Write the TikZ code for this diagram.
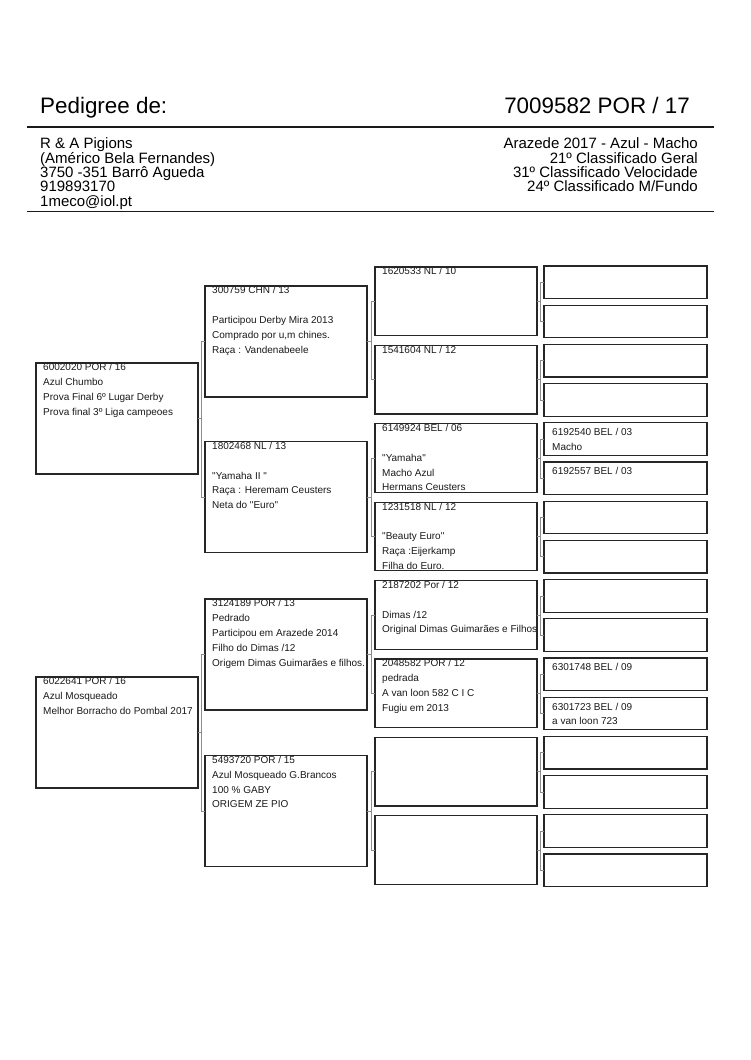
\documentclass[tikz,border=0pt]{standalone}
\usepackage{fontspec}
\setmainfont{Liberation Sans}[Ligatures=TeXOff]
\usepackage{tikz}
\usetikzlibrary{backgrounds}

\begin{document}
\begin{tikzpicture}[
      x=1pt, y=-1pt,
      %% Pedigree boxes, one height per generation
      gen/.style={draw=black!85, line width=1.2pt, anchor=north west,
                  inner sep=0pt, outer sep=0pt, minimum width=162pt},
      big/.style={gen, minimum height=111pt},
      mid/.style={gen, minimum height=68.5pt},
      small/.style={gen, minimum width=163pt, minimum height=32.5pt},
      %% Text inside the boxes
      info/.style={anchor=north west, align=left, inner sep=0pt, text=black!90,
                   font=\fontsize{10}{14.8}\selectfont},
      %% Thin grey bracket connectors
      link/.style={draw=black!45, line width=0.6pt},
      rule/.style={draw=black!90, line width=1.3pt},
    ]
    \useasboundingbox (0,0) rectangle (750,1060);

    %% ── Header ──────────────────────────────────────────────────────────────
    \node[anchor=base west, inner sep=0pt, font=\fontsize{22.4}{26}\selectfont]
      (title) at (40,113) {Pedigree de:};
    \node[anchor=base east, inner sep=0pt, font=\fontsize{22.4}{26}\selectfont]
      (ring) at (690,113) {7009582 POR / 17};
    \draw[rule] (27,127) -- (714,127);

    \node[anchor=north west, align=left, inner sep=0pt,
          font=\fontsize{15}{14.3}\selectfont] (owner) at (40,137.8)
      {R \& A Pigions\\
       (Américo Bela Fernandes)\\
       3750 -351 Barrô Agueda\\
       919893170\\
       1meco@iol.pt};
    \node[anchor=north east, align=right, inner sep=0pt,
          font=\fontsize{15}{14.3}\selectfont] (result) at (698,137.8)
      {Arazede 2017 - Azul - Macho\\
       21º Classificado Geral\\
       31º Classificado Velocidade\\
       24º Classificado M/Fundo};
    \draw[rule] (27,211.5) -- (714,211.5);

    %% ── Parents ─────────────────────────────────────────────────────────────
    \node[big] (s) at (36,363) {};
    \node[big] (d) at (36,677) {};

    %% ── Grandparents ────────────────────────────────────────────────────────
    \node[big] (ss) at (205,286) {};
    \node[big] (sd) at (205,441.5) {};
    \node[big] (ds) at (205,599) {};
    \node[big] (dd) at (205,755.5) {};

    %% ── Great-grandparents ──────────────────────────────────────────────────
    \node[mid] (sss) at (375,267) {};
    \node[mid] (ssd) at (375,345.4) {};
    \node[mid] (sds) at (375,423.8) {};
    \node[mid] (sdd) at (375,502.2) {};
    \node[mid] (dss) at (375,580.6) {};
    \node[mid] (dsd) at (375,659) {};
    \node[mid] (dds) at (375,737.4) {};
    \node[mid] (ddd) at (375,815.8) {};

    %% ── Great-great-grandparents ────────────────────────────────────────────
    \node[small] (ssss) at (544,266) {};
    \node[small] (sssd) at (544,305.2) {};
    \node[small] (ssds) at (544,344.4) {};
    \node[small] (ssdd) at (544,383.6) {};
    \node[small] (sdss) at (544,422.8) {};
    \node[small] (sdsd) at (544,462) {};
    \node[small] (sdds) at (544,501.2) {};
    \node[small] (sddd) at (544,540.4) {};
    \node[small] (dsss) at (544,579.6) {};
    \node[small] (dssd) at (544,618.8) {};
    \node[small] (dsds) at (544,658) {};
    \node[small] (dsdd) at (544,697.2) {};
    \node[small] (ddss) at (544,736.4) {};
    \node[small] (ddsd) at (544,775.6) {};
    \node[small] (ddds) at (544,814.8) {};
    \node[small] (dddd) at (544,854) {};

    %% ── Box texts (behind the borders, so the top line is cut) ──────────────
    \begin{scope}[on background layer]
      \node[info] (t-s) at ([xshift=7pt,yshift=-0.5pt]s.north west)
        {6002020 POR / 16\\ Azul Chumbo\\ Prova Final 6º Lugar Derby\\
         Prova final 3º Liga campeoes};
      \node[info] (t-d) at ([xshift=7pt,yshift=-0.5pt]d.north west)
        {6022641 POR / 16\\ Azul Mosqueado\\ Melhor Borracho do Pombal 2017};

      \node[info] (t-ss) at ([xshift=7pt,yshift=-0.5pt]ss.north west)
        {300759 CHN / 13\\ {}\\ Participou Derby Mira 2013\\
         Comprado por u,m chines.\\ Raça : Vandenabeele};
      \node[info] (t-sd) at ([xshift=7pt,yshift=-0.5pt]sd.north west)
        {1802468 NL / 13\\ {}\\ "Yamaha II "\\ Raça : Heremam Ceusters\\
         Neta do "Euro"};
      \node[info] (t-ds) at ([xshift=7pt,yshift=-0.5pt]ds.north west)
        {3124189 POR / 13\\ Pedrado\\ Participou em Arazede 2014\\
         Filho do Dimas /12\\ Origem Dimas Guimarães e filhos.};
      \node[info] (t-dd) at ([xshift=7pt,yshift=-0.5pt]dd.north west)
        {5493720 POR / 15\\ Azul Mosqueado G.Brancos\\ 100 \% GABY\\
         ORIGEM ZE PIO};

      \node[info] (t-sss) at ([xshift=7pt,yshift=-0.5pt]sss.north west)
        {1620533 NL / 10};
      \node[info] (t-ssd) at ([xshift=7pt,yshift=-0.5pt]ssd.north west)
        {1541604 NL / 12};
      \node[info] (t-sds) at ([xshift=7pt,yshift=-0.5pt]sds.north west)
        {6149924 BEL / 06\\ {}\\ "Yamaha"\\ Macho Azul\\ Hermans Ceusters};
      \node[info] (t-sdd) at ([xshift=7pt,yshift=-0.5pt]sdd.north west)
        {1231518 NL / 12\\ {}\\ "Beauty Euro"\\ Raça :Eijerkamp\\
         Filha do Euro.};
      \node[info] (t-dss) at ([xshift=7pt,yshift=-0.5pt]dss.north west)
        {2187202 Por / 12\\ {}\\ Dimas /12\\ Original Dimas Guimarães e Filhos};
      \node[info] (t-dsd) at ([xshift=7pt,yshift=-0.5pt]dsd.north west)
        {2048582 POR / 12\\ pedrada\\ A van loon 582 C I C\\ Fugiu em 2013};

      \node[info] (t-sdss) at ([xshift=8pt,yshift=-5.5pt]sdss.north west)
        {6192540 BEL / 03\\ Macho};
      \node[info] (t-sdsd) at ([xshift=8pt,yshift=-5.5pt]sdsd.north west)
        {6192557 BEL / 03};
      \node[info] (t-dsds) at ([xshift=8pt,yshift=-5.5pt]dsds.north west)
        {6301748 BEL / 09};
      \node[info] (t-dsdd) at ([xshift=8pt,yshift=-5.5pt]dsdd.north west)
        {6301723 BEL / 09\\ a van loon 723};
    \end{scope}

    %% ── Connectors ──────────────────────────────────────────────────────────
    \draw[link] (s.east) -- ++(3.5,0) |- (ss.west);
    \draw[link] (s.east) -- ++(3.5,0) |- (sd.west);
    \draw[link] (d.east) -- ++(3.5,0) |- (ds.west);
    \draw[link] (d.east) -- ++(3.5,0) |- (dd.west);

    \draw[link] (ss.east) -- ++(4.5,0) |- (sss.west);
    \draw[link] (ss.east) -- ++(4.5,0) |- (ssd.west);
    \draw[link] (sd.east) -- ++(4.5,0) |- (sds.west);
    \draw[link] (sd.east) -- ++(4.5,0) |- (sdd.west);
    \draw[link] (ds.east) -- ++(4.5,0) |- (dss.west);
    \draw[link] (ds.east) -- ++(4.5,0) |- (dsd.west);
    \draw[link] (dd.east) -- ++(4.5,0) |- (dds.west);
    \draw[link] (dd.east) -- ++(4.5,0) |- (ddd.west);

    \draw[link] (sss.east) -- ++(3.5,0) |- (ssss.west);
    \draw[link] (sss.east) -- ++(3.5,0) |- (sssd.west);
    \draw[link] (ssd.east) -- ++(3.5,0) |- (ssds.west);
    \draw[link] (ssd.east) -- ++(3.5,0) |- (ssdd.west);
    \draw[link] (sds.east) -- ++(3.5,0) |- (sdss.west);
    \draw[link] (sds.east) -- ++(3.5,0) |- (sdsd.west);
    \draw[link] (sdd.east) -- ++(3.5,0) |- (sdds.west);
    \draw[link] (sdd.east) -- ++(3.5,0) |- (sddd.west);
    \draw[link] (dss.east) -- ++(3.5,0) |- (dsss.west);
    \draw[link] (dss.east) -- ++(3.5,0) |- (dssd.west);
    \draw[link] (dsd.east) -- ++(3.5,0) |- (dsds.west);
    \draw[link] (dsd.east) -- ++(3.5,0) |- (dsdd.west);
    \draw[link] (dds.east) -- ++(3.5,0) |- (ddss.west);
    \draw[link] (dds.east) -- ++(3.5,0) |- (ddsd.west);
    \draw[link] (ddd.east) -- ++(3.5,0) |- (ddds.west);
    \draw[link] (ddd.east) -- ++(3.5,0) |- (dddd.west);
  \end{tikzpicture}
\end{document}
